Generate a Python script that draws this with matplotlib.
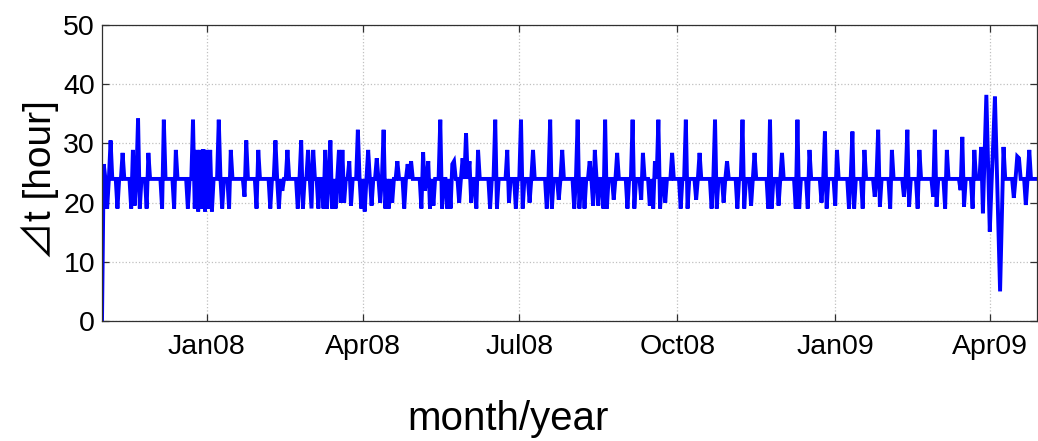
import numpy as np
import matplotlib
matplotlib.use("Agg")
import matplotlib.pyplot as plt
import matplotlib.dates as mdates

plt.rcParams['font.family'] = ['Liberation Sans', 'Noto Sans CJK JP', 'DejaVu Sans']

# Interval between successive records, in hours, one value per day.
# Days not listed sit on the regular 24 h spacing.
base_date = np.datetime64('2008-01-01')
first_day, last_day = -61, 484          # days relative to 1 Jan 2008
regular_hours = 24.0

event_day = [
    -61, -60, -58, -56, -52, -49, -44, -43, -42, -40, -39, -35, -34, -26, -25,
    -19, -18, -11, -8, -7, -6, -5, -4, -3, -2, -1, 0, 1, 2, 3, 7, 9, 13, 14,
    22, 23, 29, 30, 37, 40, 42, 44, 47, 53, 55, 56, 59, 61, 62, 65, 68, 69, 70,
    72, 73, 75, 77, 78, 79, 80, 83, 84, 88, 90, 92, 94, 96, 99, 101, 103, 104,
    106, 108, 111, 115, 117, 119, 125, 126, 127, 129, 130, 132, 136, 137, 140,
    142, 143, 144, 147, 149, 151, 153, 154, 157, 158, 165, 168, 169, 175, 176,
    180, 183, 184, 188, 190, 198, 200, 201, 205, 207, 214, 216, 217, 220, 223,
    225, 226, 228, 231, 232, 233, 237, 239, 245, 248, 249, 253, 254, 258, 260,
    261, 263, 264, 267, 271, 276, 279, 280, 285, 287, 294, 296, 297, 301, 303,
    309, 312, 313, 317, 319, 327, 328, 329, 333, 335, 343, 344, 345, 350, 351,
    358, 360, 361, 366, 367, 374, 376, 377, 382, 383, 389, 391, 392, 398, 399,
    406, 408, 409, 414, 415, 423, 424, 425, 430, 431, 439, 440, 441, 446, 447,
    451, 452, 453, 454, 455, 456, 457, 458, 459, 460, 461, 462, 463, 464, 470,
    472, 473, 477, 479,
]
event_hours = [
    0, 26.5, 19, 30.5, 19, 28.4, 19, 28.9, 19.5, 34.2, 19, 19, 28.4, 19, 34,
    19, 28.9, 19, 34, 19, 28.9, 18.5, 28.9, 19, 29, 18.5, 28.9, 19, 28.9, 18.5, 34, 19, 19, 28.9,
    21, 30.5, 19, 28.9, 19, 30.5, 19, 22, 28.9, 19, 30.5, 19, 28.9, 19, 28.9, 19, 19, 28.9, 19,
    30.5, 19, 19, 28.9, 20, 28.9, 20, 27, 19.5, 32.3, 19, 18.5, 28.9, 19.5, 27.5, 20, 32.3, 19,
    19, 20, 27, 19, 26.5, 27, 19, 28.5, 22, 27, 19, 19.5, 34, 19, 19,
    19, 26.5, 27, 20, 27.5, 31.7, 27, 20, 19, 28.9, 19, 34, 19, 28.9, 20,
    19, 34, 19, 20, 28.9, 19, 34, 19, 20.5, 28.9, 19, 34, 19, 19, 27,
    19.5, 28.9, 19.5, 19, 34, 19, 20.5, 28.4, 19, 34, 19, 20.5, 28.4, 19.5, 19,
    27, 34, 19, 20, 28.4, 19, 34, 19, 20.5, 28.4, 19, 34, 19, 20, 27,
    19, 34, 19, 19.5, 28.4, 19, 34, 19, 19.5, 28.4, 19, 34, 19, 19, 28.9,
    20, 32, 19, 19.5, 28.9, 19, 32, 19, 19, 28.9, 21, 32.3, 19.3, 19, 28.9,
    21, 32.3, 19.3, 19, 28.9, 21, 32.3, 19.3, 19, 28.9, 22.1, 31.1, 19.3, 19, 28.9,
    29.4, 18.2, 28, 38.2, 27, 15.1, 23, 30, 37.9, 27, 16, 5, 17, 29.4, 20.8,
    27.8, 27.5, 19.6, 28.9,
]

tick_dates = ['2008-01-01', '2008-04-01', '2008-07-01',
              '2008-10-01', '2009-01-01', '2009-04-01']
tick_labels = ['Jan08', 'Apr08', 'Jul08', 'Oct08', 'Jan09', 'Apr09']
y_ticks = [0, 10, 20, 30, 40, 50]

# assemble the daily series
days = np.arange(first_day, last_day + 1)
hours = np.full(days.shape, regular_hours)
hours[np.searchsorted(days, event_day)] = event_hours
dates = base_date + days.astype('timedelta64[D]')

fig = plt.figure(figsize=(10.38, 4.41), dpi=100)
ax = fig.add_axes([102 / 1038, 1 - 321 / 441, 935 / 1038, 296 / 441])

ax.plot(mdates.date2num(dates), hours, color='#0000ff', linewidth=2.8,
        solid_joinstyle='miter')

x0 = mdates.date2num(base_date + np.timedelta64(first_day, 'D'))
x1 = mdates.date2num(base_date + np.timedelta64(483, 'D')) + 0.5
ax.set_xlim(x0, x1)
ax.set_ylim(0, 50)
ax.set_xticks(mdates.date2num(np.array(tick_dates, dtype='datetime64[D]')))
ax.set_xticklabels(tick_labels)
ax.set_yticks(y_ticks)

ax.grid(True, linestyle=':', color='#c0c0c0', linewidth=0.9)
ax.set_axisbelow(True)
for s in ax.spines.values():
    s.set_color('#303030')
    s.set_linewidth(0.9)
ax.tick_params(direction='in', length=5, width=0.9, top=True, right=True,
               labelsize=20.5, color='#303030', labelcolor='black')
ax.tick_params(axis='x', pad=9)
ax.tick_params(axis='y', pad=5)

ax.set_xlabel('month/year', fontsize=29)
ax.xaxis.label.set_verticalalignment('baseline')
ax.xaxis.set_label_coords((508 - 102) / 935, (321 - 430) / 296)

ax.set_ylabel('⊿t [hour]', fontsize=28)
ax.yaxis.label.set_verticalalignment('center')
ax.yaxis.set_label_coords((40 - 102) / 935, (321 - 180) / 296)

fig.savefig('out.png', dpi=100)
